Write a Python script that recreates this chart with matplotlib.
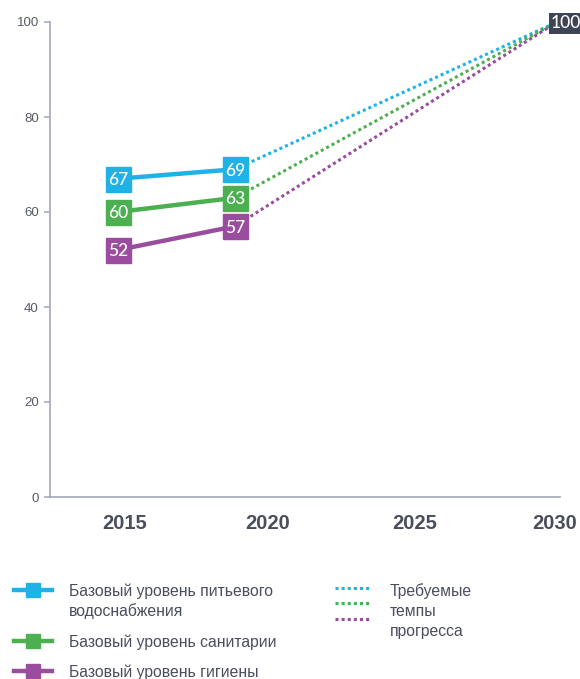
import matplotlib.pyplot as plt
from matplotlib.lines import Line2D

# --- data ---
years = [2015, 2019]
target_year = 2030
target_value = 100
water = [67, 69]
sanitation = [60, 63]
hygiene = [52, 57]
year_ticks = [2015, 2020, 2025, 2030]
y_ticks = [0, 20, 40, 60, 80, 100]

legend_solid = ["Базовый уровень питьевого\nводоснабжения",
                "Базовый уровень санитарии",
                "Базовый уровень гигиены"]
legend_dotted = "Требуемые\nтемпы\nпрогресса"

c_water = "#1fb2e6"
c_san = "#4caf50"
c_hyg = "#9a4d9e"
c_axis = "#a3a7bb"
c_text = "#4a4d5c"

plt.rcParams['font.family'] = ['Liberation Sans', 'DejaVu Sans']

fig = plt.figure(figsize=(5.8, 6.79), dpi=100)
ax = fig.add_axes([50 / 580, 1 - 497 / 679, 510 / 580, 475 / 679])

series = [(water, c_water), (sanitation, c_san), (hygiene, c_hyg)]

# required progress (dotted) from last baseline to 2030
for vals, col in series:
    ax.plot([years[-1], target_year], [vals[-1], target_value], color=col,
            lw=2.2, linestyle=(0, (1, 1)), zorder=2)

# baselines with square labels
for vals, col in series:
    ax.plot(years, vals, color=col, lw=3.2, solid_capstyle='butt', zorder=3)
    ax.plot(years, vals, linestyle='none', marker='s', markersize=18,
            color=col, zorder=4)
    for x, v in zip(years, vals):
        ax.text(x, v, str(v), color='white', fontsize=12.5, ha='center',
                va='center_baseline', family=['Lato', 'DejaVu Sans'],
                fontweight='medium', zorder=5)

ax.text(target_year + 0.3, target_value, str(target_value), color='white',
        fontsize=12.5, ha='center', va='center_baseline',
        family=['Lato', 'DejaVu Sans'], fontweight='medium', zorder=5,
        bbox=dict(boxstyle='square,pad=0.12', fc='#3e4455', ec='none'))

ax.set_xlim(2012.68, 2030.1)
ax.set_ylim(0, 100)

for s in ['top', 'right']:
    ax.spines[s].set_visible(False)
for s in ['left', 'bottom']:
    ax.spines[s].set_color(c_axis)
    ax.spines[s].set_linewidth(1.2)

ax.set_yticks(y_ticks)
ax.tick_params(axis='y', length=4, width=1.1, color=c_axis, labelsize=9.5,
               labelcolor='#555a66', pad=4)
# labels sit a touch off the exact year in the original
nudge = [0.24, 0.12, 0.15, -0.1]
ax.set_xticks([y + n for y, n in zip(year_ticks, nudge)])
ax.set_xticklabels([str(y) for y in year_ticks])
ax.tick_params(axis='x', length=0, pad=12, labelsize=14.5, labelcolor=c_text)
for lab in ax.get_xticklabels():
    lab.set_fontweight('bold')

# --- legend drawn by hand ---
def fx(px):
    return px / 580

def fy(py):
    return 1 - py / 679

line_gap = 20
solid_rows = [590, 641, 671]
for (vals, col), label, py in zip(series, legend_solid, solid_rows):
    fig.add_artist(Line2D([fx(14), fx(52)], [fy(py), fy(py)], color=col, lw=3.2,
                          transform=fig.transFigure))
    fig.add_artist(Line2D([fx(33)], [fy(py)], color=col, marker='s',
                          markersize=10, transform=fig.transFigure))
    for i, part in enumerate(label.split('\n')):
        fig.text(fx(69), fy(py + i * line_gap), part, fontsize=11.3,
                 color=c_text, va='center_baseline')

for (vals, col), py in zip(series, [588, 603, 619]):
    fig.add_artist(Line2D([fx(335), fx(370)], [fy(py), fy(py)], color=col,
                          lw=2.2, linestyle=(0, (1, 1)),
                          transform=fig.transFigure))
for i, part in enumerate(legend_dotted.split('\n')):
    fig.text(fx(390), fy(590 + i * line_gap), part, fontsize=11.3,
             color=c_text, va='center_baseline')

fig.savefig("out.png", dpi=100)
